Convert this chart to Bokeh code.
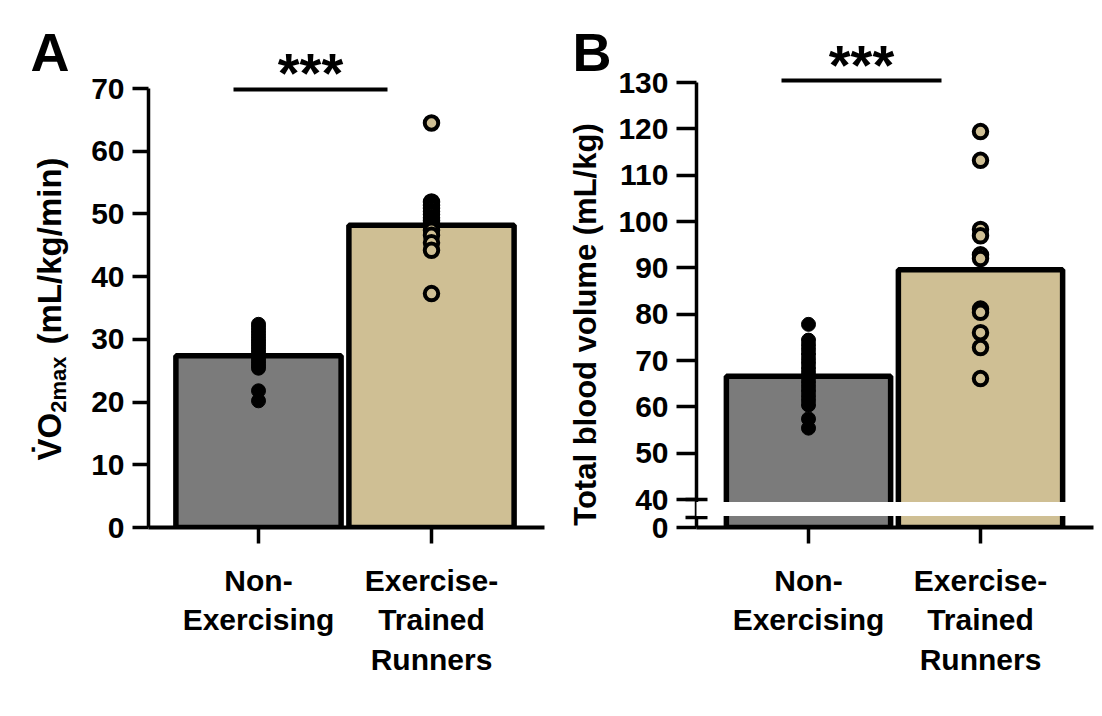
import math
from bokeh.plotting import figure
from bokeh.models import Range1d, FixedTicker, BoxAnnotation, ColumnDataSource
from bokeh.layouts import row
from bokeh.embed import file_html
from bokeh.resources import INLINE
from bokeh.core.properties import value

# ---------------- data ----------------
group_pos = [1, 2]
group_labels = ["Non-\nExercising", "Exercise-\nTrained\nRunners"]
bar_colors = ["#7b7b7b", "#cfbf94"]

# Panel A: VO2max (mL/kg/min)
vo2_means = [27.4, 48.2]
vo2_non = [32.4, 31.9, 31.4, 30.9, 30.4, 29.9, 29.4, 28.9, 28.4, 27.9, 27.4,
           26.9, 26.4, 25.9, 25.4, 21.8, 20.2]
vo2_run = [64.5, 51.9, 51.4, 50.9, 50.4, 49.9, 49.4, 48.9, 48.4, 47.9, 47.4,
           46.6, 45.4, 44.2, 37.3]
vo2_ticks = [0, 10, 20, 30, 40, 50, 60, 70]

# Panel B: Total blood volume (mL/kg)
tbv_means = [66.6, 89.6]
tbv_non = [77.8, 74.4, 73.4, 72.4, 71.4, 70.4, 69.4, 68.4, 67.4, 66.4, 65.4,
           64.4, 63.4, 62.4, 61.4, 60.4, 57.4, 55.4]
tbv_run = [119.4, 113.2, 98.3, 96.9, 92.8, 92.0, 81.1, 80.4, 76.0, 72.8, 66.1]
tbv_ticks = [40, 50, 60, 70, 80, 90, 100, 110, 120, 130]
tbv_break_label = "0"

sig_text = "***"

# ---------------- style / layout ----------------
FONT = "Liberation Sans"
H = 716
FRAME_TOP = 20
FRAME_BOTTOM = 527
BASE_SHIFT = 0.375   # empirical alphabetic-baseline correction (em)


def label_fig(w):
    # frame is aligned with the panels' frames (row aligns plot frames)
    p = figure(width=w, height=H, x_range=Range1d(0, w),
               y_range=Range1d(H - FRAME_BOTTOM, H - FRAME_TOP),
               output_backend="svg", toolbar_location=None,
               x_axis_location=None, y_axis_location=None,
               min_border_left=0, min_border_right=0,
               min_border_top=FRAME_TOP, min_border_bottom=H - FRAME_BOTTOM)
    p.outline_line_color = None
    p.grid.visible = False
    p.background_fill_color = "white"
    p.border_fill_color = "white"
    return p


def put_text(p, px, py, txt, fs, angle=0.0, align="left"):
    # px, py: baseline anchor in canvas pixels (y from top)
    if angle:
        x, y = px - BASE_SHIFT * fs, H - py
    else:
        x, y = px, H - (py - BASE_SHIFT * fs)
    p.text(x=[x], y=[y], text=[txt], angle=angle, text_font=value(FONT),
           text_font_style="bold", text_font_size=f"{fs}px", text_align=align,
           text_baseline="alphabetic", text_color="black")


def make_panel(w, frame_l, frame_r, cat1_px, px_per_cat, y_ref_val, y_ref_px, px_per_unit):
    x0 = group_pos[0] - (cat1_px - frame_l) / px_per_cat
    x1 = x0 + (frame_r - frame_l) / px_per_cat
    y0 = y_ref_val - (FRAME_BOTTOM - y_ref_px) / px_per_unit
    y1 = y_ref_val + (y_ref_px - FRAME_TOP) / px_per_unit
    p = figure(width=w, height=H, x_range=Range1d(x0, x1), y_range=Range1d(y0, y1),
               output_backend="svg", toolbar_location=None,
               min_border_left=frame_l, min_border_right=w - frame_r,
               min_border_top=FRAME_TOP, min_border_bottom=H - FRAME_BOTTOM)
    p.outline_line_color = None
    p.xgrid.visible = False
    p.ygrid.visible = False
    p.background_fill_color = "white"
    p.border_fill_color = "white"

    fx = lambda px: x0 + (px - frame_l) / px_per_cat
    fy = lambda py: y_ref_val + (y_ref_px - py) / px_per_unit

    xa = p.xaxis[0]
    xa.ticker = FixedTicker(ticks=group_pos)
    xa.major_label_overrides = {group_pos[0]: group_labels[0], group_pos[1]: group_labels[1]}
    xa.major_label_text_font = FONT
    xa.major_label_text_font_style = "bold"
    xa.major_label_text_font_size = "30px"
    xa.major_label_text_color = "black"
    xa.major_label_text_line_height = 1.2
    xa.major_label_standoff = 20
    xa.major_tick_in = 0
    xa.major_tick_out = 16
    xa.major_tick_line_width = 3.5
    xa.major_tick_line_color = "black"
    xa.minor_tick_line_color = None
    xa.axis_line_width = 4
    xa.axis_line_color = "black"

    ya = p.yaxis[0]
    ya.major_label_text_font = FONT
    ya.major_label_text_font_style = "bold"
    ya.major_label_text_font_size = "30px"
    ya.major_label_text_color = "black"
    ya.major_label_standoff = 8
    ya.major_tick_in = 0
    ya.major_tick_line_width = 3.5
    ya.major_tick_line_color = "black"
    ya.axis_line_width = 3.5
    ya.axis_line_color = "black"
    return p, fx, fy, x0, x1, y0, y1


def draw_data(p, means, non, run):
    src = ColumnDataSource(dict(x=group_pos, top=means, color=bar_colors))
    p.vbar(x="x", top="top", bottom=0, width=0.955, source=src,
           fill_color="color", line_color="black", line_width=5.5)
    p.scatter(x=[group_pos[0]] * len(non), y=non, size=14, fill_color="black",
              line_color="black", line_width=1)
    p.scatter(x=[group_pos[1]] * len(run), y=run, size=13.5, fill_color=bar_colors[1],
              line_color="black", line_width=4)


def sig_bar(p, fx, fy, x_from_px, x_to_px, y_px, star_x_px, star_top_px, fs=56):
    p.line(x=[fx(x_from_px), fx(x_to_px)], y=[fy(y_px), fy(y_px)], line_width=4,
           line_color="black")
    base_px = star_top_px + 19
    p.text(x=[fx(star_x_px)], y=[fy(base_px)], text=[sig_text],
           text_font=value(FONT), text_font_style="bold", text_font_size=f"{fs}px",
           text_align="center", text_baseline="alphabetic", text_color="black")


# ---------------- Panel A ----------------
LA_W = 75
labA = label_fig(LA_W)
put_text(labA, 30, 72, "A", 54)
F_MAIN, F_SUB = 33, 22
cur = 460
for txt, fs, dx, em in [("V\u0307O", F_MAIN, 0, 1.445), ("2max", F_SUB, 5, 2.557 + 0.55),
                        ("(mL/kg/min)", F_MAIN, 0, 5.667)]:
    put_text(labA, 61 + dx, cur, txt, fs, angle=math.pi / 2)
    cur -= fs * em

PA_W = 551 - LA_W
pA, fxA, fyA, ax0, ax1, ay0, ay1 = make_panel(PA_W, 148 - LA_W, 544 - LA_W, 258 - LA_W, 173,
                                              0, 527, 439 / 70)
pA.yaxis[0].ticker = FixedTicker(ticks=vo2_ticks)
pA.yaxis[0].bounds = (vo2_ticks[0], vo2_ticks[-1])
pA.yaxis[0].major_tick_out = 16
draw_data(pA, vo2_means, vo2_non, vo2_run)
sig_bar(pA, fxA, fyA, 233 - LA_W, 387 - LA_W, 89, 310 - LA_W, 53)

# ---------------- Panel B ----------------
LB_X = 551
LB_W = 61
labB = label_fig(LB_W)
put_text(labB, 572 - LB_X, 72, "B", 54)
put_text(labB, 597 - LB_X, 324, "Total blood volume (mL/kg)", 31, angle=math.pi / 2,
         align="center")

PB_X = LB_X + LB_W
PB_W = 1102 - PB_X
pB, fxB, fyB, bx0, bx1, by0, by1 = make_panel(PB_W, 696 - PB_X, 1093 - PB_X, 808 - PB_X, 172,
                                              40, 499, (499 - 82) / 90)
yb = pB.yaxis[0]
yb.ticker = FixedTicker(ticks=[by0] + tbv_ticks, minor_ticks=[fyB(517), tbv_ticks[0]])
yb.major_label_overrides = {by0: tbv_break_label}
yb.bounds = (by0, tbv_ticks[-1])
yb.major_tick_out = 20
yb.minor_tick_in = 11
yb.minor_tick_out = 11
yb.minor_tick_line_width = 3.5
yb.minor_tick_line_color = "black"
draw_data(pB, tbv_means, tbv_non, tbv_run)
# axis break band
pB.add_layout(BoxAnnotation(left=fxB(690 - PB_X), right=bx1, bottom=fyB(515.5),
                            top=fyB(501.5), fill_color="white", fill_alpha=1.0,
                            line_color=None, line_alpha=0))
sig_bar(pB, fxB, fyB, 781 - PB_X, 941 - PB_X, 80, 861 - PB_X, 45)

layout = row(labA, pA, labB, pB)
open("out.html", "w").write(file_html(layout, INLINE))
